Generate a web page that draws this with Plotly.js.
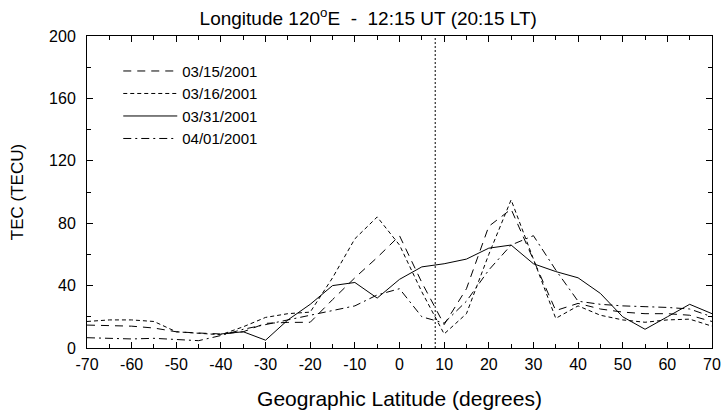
<!DOCTYPE html>
<html>
<head>
<meta charset="utf-8">
<script src="https://cdn.plot.ly/plotly-3.0.1.min.js"></script>
<style>html,body{margin:0;padding:0;background:#fff;}#chart{width:722px;height:418px;}</style>
</head>
<body>
<div id="chart"></div>
<script>
// Geographic latitude (degrees)
const latitude = [-70,-65,-60,-55,-50,-45,-40,-35,-30,-25,-20,-15,-10,-5,0,5,10,15,20,25,30,35,40,45,50,55,60,65,70];
// TEC (TECU) per day
const tec_0315 = [14.7,14.5,14,12.8,10.4,9.6,9,10.4,15.8,16.4,16.5,31,45,58,72,42,15,38,78,89,56,24,28.6,25,23,22,22,21,17];
const tec_0316 = [17,18,18,17,10.4,9.6,8.5,13.6,19.6,22,23,45,70,84,66,36,9,22,60,95,57,19,27,21,18,16.5,18,18.5,14];
const tec_0331 = [null,null,null,null,null,null,9,10.4,5,18,28,40,42,32,44,52,54,57,64,66,54,49,45,35,20,12,20,28,22];
const tec_0401 = [6.6,6.2,5.8,6.2,5.5,4.7,8,12,15,18,21,24,27,34,38,20,16,30,50,66,72,50,30,28,27,26.5,26,25,20];
const seriesNames = ['03/15/2001','03/16/2001','03/31/2001','04/01/2001'];
const markerLatitude = 8;
const xTicks = [-70,-60,-50,-40,-30,-20,-10,0,10,20,30,40,50,60,70];
const yTicks = [0,40,80,120,160,200];

const font = 'Liberation Sans, Arial, sans-serif';
const mk = (y, name, dash) => ({
  x: latitude, y: y, name: name, type: 'scatter', mode: 'lines',
  connectgaps: false,
  line: {color: '#000', width: 1, dash: dash}
});
const data = [
  mk(tec_0315, seriesNames[0], '8px,6px'),
  mk(tec_0316, seriesNames[1], '4px,3px'),
  mk(tec_0331, seriesNames[2], 'solid'),
  mk(tec_0401, seriesNames[3], '8px,4px,2px,4px')
];

const axisCommon = {
  showline: true, linecolor: '#000', linewidth: 1, mirror: 'allticks',
  ticks: 'inside', ticklen: 6, tickwidth: 1, tickcolor: '#000',
  showgrid: false, zeroline: false,
  tickfont: {family: font, size: 16, color: '#000'}
};

const layout = {
  width: 722, height: 418,
  margin: {l: 87, r: 10, t: 36, b: 70},
  paper_bgcolor: '#fff', plot_bgcolor: '#fff',
  font: {family: font, color: '#000'},
  showlegend: true,
  title: {text: 'Longitude 120<sup>o</sup>E  -  12:15 UT (20:15 LT)', font: {family: font, size: 19, color: '#000'}, x: 0.51, xanchor: 'center', y: 0.955, yanchor: 'middle'},
  xaxis: Object.assign({}, axisCommon, {
    range: [-70, 70], tickvals: xTicks, ticktext: xTicks.map(String),
    ticklabelstandoff: 2,
    minor: {dtick: 5, ticks: 'inside', ticklen: 4, tickcolor: '#000', showgrid: false},
    title: {text: 'Geographic Latitude (degrees)', font: {family: font, size: 21, color: '#000'}, standoff: 19}
  }),
  yaxis: Object.assign({}, axisCommon, {
    range: [0, 200], tickvals: yTicks, ticktext: yTicks.map(String),
    ticklabelstandoff: 7,
    minor: {dtick: 20, ticks: 'inside', ticklen: 4, tickcolor: '#000', showgrid: false},
    title: {text: 'TEC (TECU)', font: {family: font, size: 17, color: '#000'}, standoff: 21}
  }),
  legend: {
    x: 0.05, y: 0.94, xanchor: 'left', yanchor: 'top',
    bgcolor: 'rgba(0,0,0,0)', borderwidth: 0,
    font: {family: font, size: 15, color: '#000'},
    itemwidth: 54, tracegroupgap: 0
  },
  shapes: [{
    type: 'line', xref: 'x', yref: 'y', x0: markerLatitude, x1: markerLatitude, y0: 0, y1: 200,
    line: {color: '#000', width: 1, dash: '2px,2px'}
  }]
};

Plotly.newPlot('chart', data, layout, {displayModeBar: false, staticPlot: true});
</script>
</body>
</html>
